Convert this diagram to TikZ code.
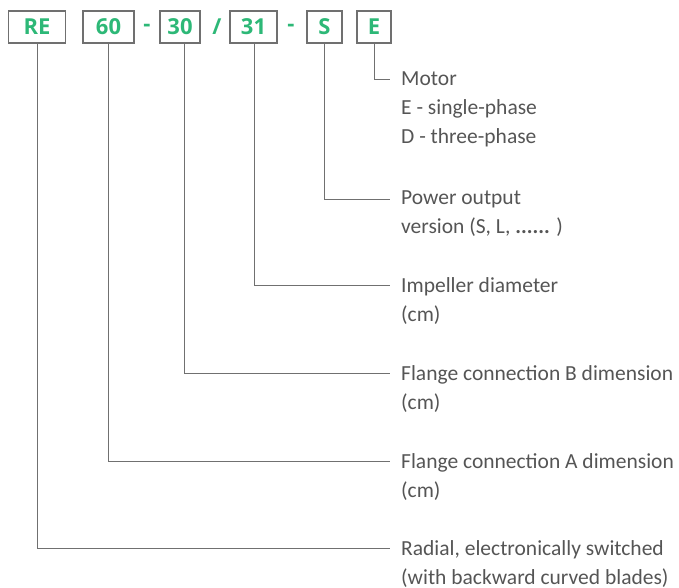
\documentclass[tikz,border=0pt]{standalone}
\usepackage{fontspec}
\setmainfont{Carlito}
\newfontfamily\codefont{Open Sans}
\usetikzlibrary{positioning}
\definecolor{codegreen}{HTML}{2DB877}
\definecolor{framegray}{HTML}{707070}
\definecolor{textgray}{HTML}{555555}
\tikzset{
  codebox/.style={draw=framegray, line width=1.3pt, minimum height=32pt, inner sep=0pt,
    text=codegreen, font=\codefont\bfseries\fontsize{22}{22}\selectfont},
  sep/.style={text=codegreen, font=\codefont\bfseries\fontsize{22}{22}\selectfont, inner sep=0pt},
  leader/.style={draw=framegray, line width=1pt},
  desc/.style={align=left, inner sep=0pt, text=textgray,
    font=\fontsize{21.5}{29}\selectfont},
}
\begin{document}
\begin{tikzpicture}[x=1pt, y=-1pt]
    \useasboundingbox (0,0) rectangle (679,588);
    % code boxes
    \node[codebox, minimum width=57pt] (re) at (37,27) {RE};
    \node[codebox, minimum width=51pt] (d60) at (108.5,27) {60};
    \node[sep] (s1) at (147,28) {-};
    \node[codebox, minimum width=40pt] (d30) at (180,27) {30};
    \node[sep] (s2) at (217,27) {/};
    \node[codebox, minimum width=47pt] (d31) at (253.5,27) {31};
    \node[sep] (s3) at (291,28) {-};
    \node[codebox, minimum width=35pt] (ver) at (324.5,27) {S};
    \node[codebox, minimum width=34pt] (mot) at (374,27) {E};

    % leader ends
    \coordinate (c-mot) at (390,80);
    \coordinate (c-ver) at (390,199);
    \coordinate (c-dia) at (390,285);
    \coordinate (c-fb) at (390,373);
    \coordinate (c-fa) at (390,461);
    \coordinate (c-re) at (390,548);

    % descriptions
    \node[desc, right=11pt of c-mot, anchor=north west, yshift=8pt] (t-mot) {Motor\\E - single-phase\\D - three-phase};
    \node[desc, right=11pt of c-ver, anchor=north west, yshift=8pt] (t-ver) {Power output\\version (S, L, \textbf{......} )};
    \node[desc, right=11pt of c-dia, anchor=north west, yshift=8pt] (t-dia) {Impeller diameter\\(cm)};
    \node[desc, right=11pt of c-fb, anchor=north west, yshift=8pt] (t-fb) {Flange connection B dimension\\(cm)};
    \node[desc, right=11pt of c-fa, anchor=north west, yshift=8pt] (t-fa) {Flange connection A dimension\\(cm)};
    \node[desc, right=11pt of c-re, anchor=north west, yshift=8pt] (t-re) {Radial, electronically switched\\(with backward curved blades)};

    % leaders
    \draw[leader] (mot.south) |- (c-mot);
    \draw[leader] (ver.south) |- (c-ver);
    \draw[leader] ([xshift=1pt]d31.south) |- (c-dia);
    \draw[leader] ([xshift=4pt]d30.south) |- (c-fb);
    \draw[leader] (d60.south) |- (c-fa);
    \draw[leader] (re.south) |- (c-re);
\end{tikzpicture}
\end{document}
